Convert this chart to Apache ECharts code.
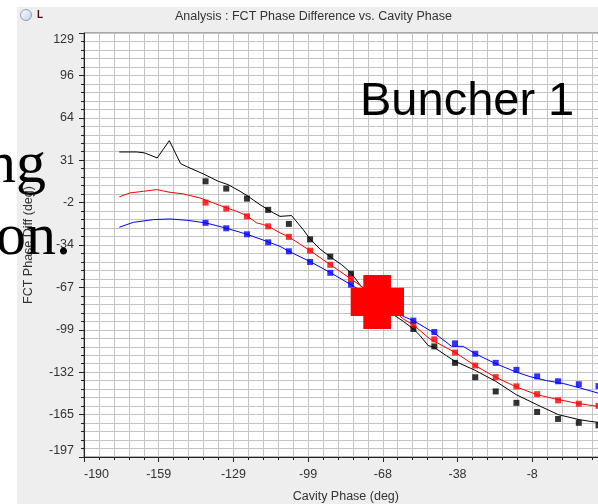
<!DOCTYPE html>
<html>
<head>
<meta charset="utf-8">
<script src="https://cdn.jsdelivr.net/npm/echarts@6/dist/echarts.min.js"></script>
<style>
html,body{margin:0;padding:0;background:#fff;}
#chart{width:598px;height:504px;}
</style>
</head>
<body>
<div id="chart"></div>
<script>
// tick labels as printed on the axes
var xTickLabels = ['-190','-159','-129','-99','-68','-38','-8','22','53'];
var yTickLabels = ['-197','-165','-132','-99','-67','-34','-2','31','64','96','129'];

// measured points (squares), cavity phase in deg
var markerPhase = [-140.3,-131.9,-123.5,-114.9,-106.5,-97.9,-89.7,-81.3,-72.8,-64.5,
                   -56.0,-47.5,-39.1,-30.9,-22.6,-14.2,-5.8,2.7,11.1,19.1];
var blackMeasured = [14.9,9.3,1.6,-7.1,-17.9,-29.8,-43.1,-56.3,-70.0,-84.7,
                     -98.8,-112.2,-124.9,-136.0,-146.9,-155.7,-162.7,-168.1,-171.1,-173.0];
var redMeasured = [-1.5,-6.1,-12.1,-19.8,-27.9,-38.5,-49.4,-60.3,-71.6,-83.9,
                   -95.6,-106.8,-117.0,-127.0,-135.9,-143.0,-149.0,-153.8,-156.4,-158.0];
var blueMeasured = [-17.1,-21.3,-25.9,-32.1,-39.0,-47.2,-55.6,-64.7,-73.9,-83.1,
                    -92.4,-101.2,-109.9,-117.9,-124.9,-130.3,-135.3,-139.1,-141.4,-142.8];

// model curves
var blackCurvePhase = [-175.3,-168.2,-165.1,-159.9,-155.0,-150.4,-147.7,-141.2,-135.1,-131.1,-126.3,-123.0,-118.2,-112.8,-110.1,-105.4,-100.7,-97.9,-93.9,-89.1,-85.1,-81.3,-77.0,-70.5,-64.1,-60.1,-56.0,-53.3,-50.0,-47.9,-42.5,-39.1,-31.0,-22.6,-14.3,-5.9,2.8,11.2,15.6,18.9];
var blackCurveDiff = [37.5,37.5,36.8,32.9,46.2,28.5,26.0,20.6,14.9,12.3,7.2,3.3,-3.1,-9.4,-12.1,-11.5,-22.3,-29.5,-37.2,-44.1,-49.3,-55.6,-66.4,-76.5,-87.8,-92.9,-98.8,-103.9,-111.6,-112.6,-119.5,-123.7,-130.6,-139.1,-149.4,-157.1,-164.8,-168.6,-169.9,-170.7];
var redCurvePhase = [-175.3,-170.9,-165.5,-160.1,-154.7,-149.3,-142.6,-137.2,-131.7,-127.7,-123.6,-119.6,-116.9,-114.8,-110.1,-106.5,-97.9,-89.7,-81.3,-72.8,-64.5,-60.1,-56.0,-49.3,-39.1,-31.0,-22.6,-14.3,-5.9,2.8,11.2,18.9];
var redCurveDiff = [2.9,6.0,7.2,8.5,6.4,5.2,2.1,-1.7,-5.6,-8.2,-11.5,-17.1,-18.4,-19.8,-24.8,-27.9,-38.5,-49.3,-60.3,-71.6,-83.9,-91.1,-95.7,-106.5,-116.8,-127.0,-136.0,-143.4,-149.4,-153.2,-156.3,-158.4];
var blueCurvePhase = [-175.3,-169.6,-161.5,-154.7,-147.9,-140.3,-131.7,-123.5,-115.5,-110.1,-106.5,-97.9,-89.7,-81.3,-72.8,-64.5,-60.1,-56.0,-47.6,-40.5,-35.8,-31.0,-22.6,-14.3,-8.7,-1.9,4.8,11.2,18.9];
var blueCurveDiff = [-20.5,-16.7,-14.6,-14.1,-15.1,-17.1,-21.3,-25.9,-31.3,-35.2,-39.0,-46.9,-55.4,-64.7,-74.5,-84.0,-89.1,-92.4,-101.8,-112.2,-112.2,-117.8,-125.5,-132.0,-135.5,-138.6,-140.8,-144.0,-148.2];

var FONT = '"Liberation Sans", Arial, sans-serif';
var SERIF = '"Liberation Serif", "Times New Roman", serif';

window.onload = function(){
    setChart();
}

function zip(a, b){
    var r = [];
    for (var i = 0; i < a.length; i++) r.push([a[i], b[i]]);
    return r;
}

function lineSeries(phase, diff, color){
    return {
        type: 'line', data: zip(phase, diff), showSymbol: false,
        lineStyle: {color: color, width: 1}, silent: true
    };
}

function markSeries(values, color){
    return {
        type: 'scatter', data: zip(markerPhase, values), symbol: 'rect', symbolSize: 6,
        itemStyle: {color: color}
    };
}

function setChart(){
    var myChart = echarts.init(document.getElementById('chart'));
    var axisCommon = {
        type: 'value',
        nameLocation: 'middle',
        axisLine: {onZero: false, lineStyle: {color: '#222'}},
        axisTick: {length: 5, lineStyle: {color: '#222'}},
        minorTick: {show: true, splitNumber: 5, length: 3, lineStyle: {color: '#222'}},
        splitLine: {show: true, lineStyle: {color: '#c4c4c4', width: 1}},
        minorSplitLine: {show: true, lineStyle: {color: '#c4c4c4', width: 1}}
    };
    var option = {
        animation: false,
        backgroundColor: '#eeeeee',
        title: {
            text: 'Analysis : FCT Phase Difference vs. Cavity Phase',
            left: 175, top: 10, padding: 0,
            textStyle: {fontFamily: FONT, fontSize: 12.5, fontWeight: 'normal', color: '#333'}
        },
        grid: {
            left: 84, top: 33, width: 597.6, height: 424,
            outerBoundsMode: 'none', containLabel: false,
            show: true, backgroundColor: '#fff', borderColor: '#666', borderWidth: 1
        },
        xAxis: Object.assign({}, axisCommon, {
            min: -189.6, max: 52.8, interval: 30.3,
            name: 'Cavity Phase (deg)', nameGap: 33,
            nameTextStyle: {fontFamily: FONT, fontSize: 12.5, color: '#333', padding: [0, 74, 0, 0]},
            axisLabel: {
                margin: 11, fontFamily: FONT, fontSize: 12.5, color: '#333', alignMinLabel: 'left',
                formatter: function(v, i){ return xTickLabels[i] || ''; }
            }
        }),
        yAxis: Object.assign({}, axisCommon, {
            min: -197.4, max: 129.1, interval: 32.65,
            name: 'FCT Phase Diff (deg)', nameGap: 49,
            nameTextStyle: {fontFamily: FONT, fontSize: 12.5, color: '#333'},
            axisLabel: {
                margin: 10, fontFamily: FONT, fontSize: 12.5, color: '#333',
                verticalAlignMinLabel: 'bottom', verticalAlignMaxLabel: 'top',
                formatter: function(v, i){ return yTickLabels[i] || ''; }
            }
        }),
        series: [
            lineSeries(blackCurvePhase, blackCurveDiff, '#000'),
            lineSeries(redCurvePhase, redCurveDiff, '#ff0000'),
            lineSeries(blueCurvePhase, blueCurveDiff, '#0000ff'),
            markSeries(blackMeasured, '#000'),
            markSeries(redMeasured, '#ff0000'),
            markSeries(blueMeasured, '#0000ff')
        ],
        graphic: [
            // slide background around the window
            {type: 'rect', shape: {x: 0, y: 0, width: 17, height: 504}, style: {fill: '#fff'}, z: 50},
            {type: 'rect', shape: {x: 0, y: 0, width: 598, height: 7}, style: {fill: '#fff'}, z: 50},
            // radio button + label
            {type: 'circle', shape: {cx: 26, cy: 15, r: 5.5}, z: 60,
             style: {fill: new echarts.graphic.LinearGradient(0, 0, 1, 1, [
                 {offset: 0, color: '#ffffff'}, {offset: 1, color: '#bcd0e6'}]),
                 stroke: '#8a9fb8', lineWidth: 1}},
            {type: 'text', x: 37, y: 15, z: 60,
             style: {text: 'L', font: 'bold 10px ' + FONT, fill: '#4a1010', verticalAlign: 'middle'}},
            // slide text overlaid on the screenshot
            {type: 'text', x: 46, y: 166.5, z: 100,
             style: {text: 'ng', font: '60px ' + SERIF, fill: '#000', align: 'right', verticalAlign: 'middle'}},
            {type: 'text', x: 71, y: 238, z: 100,
             style: {text: 'on.', font: '60px ' + SERIF, fill: '#000', align: 'right', verticalAlign: 'middle'}},
            {type: 'text', x: 360, y: 102, z: 100,
             style: {text: 'Buncher 1', font: '47px ' + FONT, fill: '#000', verticalAlign: 'middle'}},
            // red cross
            {type: 'rect', shape: {x: 350.7, y: 287.7, width: 53.3, height: 28.3}, style: {fill: '#ff0000'}, z: 100},
            {type: 'rect', shape: {x: 363.3, y: 275, width: 27.7, height: 54}, style: {fill: '#ff0000'}, z: 100}
        ]
    };
    myChart.setOption(option);
}
</script>
</body>
</html>
